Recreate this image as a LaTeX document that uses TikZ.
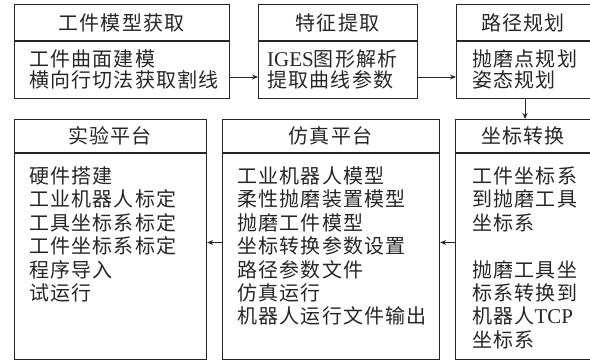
\documentclass[tikz,border=0pt]{standalone}
\usepackage{fontspec}
\setmainfont{Liberation Serif}
\newfontfamily\cjk[LetterSpace=6]{Noto Sans CJK SC}
\usetikzlibrary{arrows.meta}
\tikzset{
  box/.style={draw=black!85, line width=1.2pt},
  sep/.style={draw=black!85, line width=1.2pt},
  title/.style={inner sep=0pt, font=\cjk\fontsize{20}{21}\selectfont, text=black!85},
  body/.style={inner sep=0pt, anchor=north west, align=left, font=\cjk\fontsize{20}{23.4}\selectfont, text=black!85},
  bodyt/.style={inner sep=0pt, anchor=north west, align=left, font=\cjk\fontsize{20}{20.5}\selectfont, text=black!85},
  arr/.style={draw=black!85, line width=0.9pt, -{Stealth[length=6pt,width=5pt]}}
}
\begin{document}
\begin{tikzpicture}[x=1pt,y=-1pt]
\useasboundingbox (0,0) rectangle (590,362);
% top row
\node[box, minimum width=215pt, minimum height=94pt, inner sep=0pt, anchor=north west] (b1) at (14,4) {};
\node[box, minimum width=159pt, minimum height=94pt, inner sep=0pt, anchor=north west] (b2) at (258,4) {};
\node[box, minimum width=140pt, minimum height=94pt, inner sep=0pt, anchor=north west] (b3) at (456,4) {};
\draw[sep] (14,41) -- (229,41);
\draw[sep] (258,41) -- (417,41);
\draw[sep] (456,41) -- (596,41);
\node[title] (t1) at (121.5,22.5) {工件模型获取};
\node[title] (t2) at (337.5,22.5) {特征提取};
\node[title] (t3) at (523,22.5) {路径规划};
\node[bodyt] (c1) at (29,49.5) {工件曲面建模\\横向行切法获取割线};
\node[bodyt] (c2) at (267,49.5) {{\rmfamily\fontsize{21}{20.5}\selectfont IGES}图形解析\\提取曲线参数};
\node[bodyt] (c3) at (472,49.5) {抛磨点规划\\姿态规划};
% bottom row
\node[box, minimum width=192pt, minimum height=240pt, inner sep=0pt, anchor=north west] (b6) at (14,119) {};
\node[box, minimum width=217pt, minimum height=240pt, inner sep=0pt, anchor=north west] (b5) at (222,119) {};
\node[box, minimum width=141pt, minimum height=240pt, inner sep=0pt, anchor=north west] (b4) at (455,119) {};
\draw[sep] (14,153) -- (206,153);
\draw[sep] (222,153) -- (439,153);
\draw[sep] (455,153) -- (596,153);
\node[title] (t6) at (110,136) {实验平台};
\node[title] (t5) at (330.5,136) {仿真平台};
\node[title] (t4) at (523,136) {坐标转换};
\node[body] (c6) at (29,166.5) {硬件搭建\\工业机器人标定\\工具坐标系标定\\工件坐标系标定\\程序导入\\试运行};
\node[body] (c5) at (237,166.5) {工业机器人模型\\柔性抛磨装置模型\\抛磨工件模型\\坐标转换参数设置\\路径参数文件\\仿真运行\\机器人运行文件输出};
\node[body] (c4) at (472,166.5) {工件坐标系\\到抛磨工具\\坐标系\\[23.4pt]抛磨工具坐\\标系转换到\\机器人{\rmfamily\fontsize{21}{23.4}\selectfont TCP}\\坐标系};
% arrows
\draw[arr] (b1.east |- 0,77) -- (b2.west |- 0,77);
\draw[arr] (b2.east |- 0,77) -- (b3.west |- 0,77);
\draw[arr] (525,98) -- (525,119);
\draw[arr] (b4.west |- 0,242.5) -- (b5.east |- 0,242.5);
\draw[arr] (b5.west |- 0,242.5) -- (b6.east |- 0,242.5);
\end{tikzpicture}
\end{document}
